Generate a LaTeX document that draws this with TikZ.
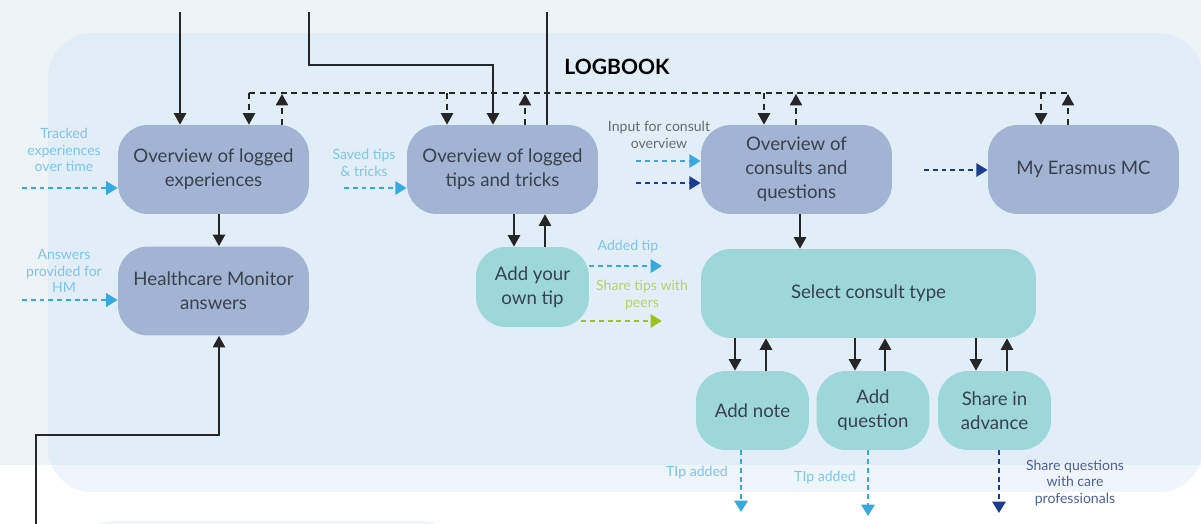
\documentclass[tikz,border=0pt]{standalone}
\usepackage{fontspec}
\setmainfont{Lato}
\usetikzlibrary{arrows.meta}

\definecolor{pagebg}{HTML}{EEF3F8}
\definecolor{panelbg}{HTML}{E2EEF7}
\definecolor{panellow}{HTML}{EEF6FC}
\definecolor{boxblue}{HTML}{A1B4D4}
\definecolor{boxteal}{HTML}{9DD7D9}
\definecolor{boxtext}{HTML}{3A414C}
\definecolor{flowline}{HTML}{262626}
\definecolor{linkblue}{HTML}{36A9E1}
\definecolor{linkdark}{HTML}{1B3C8C}
\definecolor{linkgreen}{HTML}{9BC31B}
\definecolor{lblblue}{HTML}{7FC5EA}
\definecolor{lblgreen}{HTML}{B3D46A}
\definecolor{lbldark}{HTML}{4D5FA0}
\definecolor{lblgray}{HTML}{666B73}

\begin{document}
\begin{tikzpicture}[
x=0.02cm, y=-0.02cm,
box/.style={rounded corners=17pt, minimum width=3.82cm, minimum height=1.78cm, align=center, text=boxtext, font=\fontsize{10.6}{13.6}\selectfont, inner sep=2pt},
bluebox/.style={box, fill=boxblue},
tealbox/.style={box, fill=boxteal, minimum width=2.26cm, minimum height=1.6cm},
flow/.style={draw=flowline, line width=0.8pt, -{Triangle[length=6.5pt,width=7pt]}},
bus/.style={draw=flowline, line width=0.8pt, dash pattern=on 3.4pt off 2.6pt},
feed/.style={line width=1.5pt, dash pattern=on 2.8pt off 2.2pt, -{Triangle[length=6.5pt,width=7.5pt]}},
note/.style={font=\fontsize{8}{9.6}\selectfont, align=center, inner sep=0pt},
]
\useasboundingbox (0,0) rectangle (1201,524);
% backgrounds
\fill[pagebg] (0,0) rectangle (1201,465);
\begin{scope}
\clip[rounded corners=0.9cm] (48,33) rectangle (1203,492);
\fill[panelbg] (48,33) rectangle (1203,492);
\fill[panellow] (48,465) rectangle (1203,492);
\end{scope}
\fill[panellow, rounded corners=0.9cm] (70,521) rectangle (466,600);
\node[font=\bfseries\fontsize{12}{14}\selectfont] (title) at (617,67) {LOGBOOK};

% boxes
\node[bluebox] (exp) at (213.5,169.5) {Overview of logged\\experiences};
\node[bluebox] (hm) at (213.5,291) {Healthcare Monitor\\answers};
\node[bluebox] (tips) at (502.5,169.5) {Overview of logged\\tips and tricks};
\node[tealbox] (owntip) at (532.5,287) {Add your\\own tip};
\node[bluebox] (consults) at (796.5,169.5) {Overview of\\consults and\\questions};
\node[bluebox] (erasmus) at (1083.5,169.5) {My Erasmus MC};
\node[tealbox, minimum width=6.7cm, minimum height=1.78cm] (select) at (868.5,293.5) {Select consult type};
\node[tealbox, minimum height=1.58cm] (note) at (752.5,410.5) {Add note};
\node[tealbox, minimum height=1.58cm] (question) at (873,410.5) {Add\\question};
\node[tealbox, minimum height=1.58cm] (share) at (994.5,410.5) {Share in\\advance};

% lines coming in from above
\coordinate (t1) at (180,12);
\coordinate (t2) at (309,12);
\coordinate (k2) at (493,65);
\coordinate (t3) at (547,12);
\draw[flow] (t1) -- (t1 |- exp.north);
\draw[flow] (t2) |- (k2) -- (k2 |- tips.north);
\draw[draw=flowline, line width=0.8pt] (t3) -- (t3 |- tips.north);

% line coming in from below
\coordinate (b0) at (36,524);
\coordinate (k4) at (219,435);
\draw[flow] (b0) |- (k4) -- (k4 |- hm.south);

% shared dashed bus
\coordinate (busL) at (249,93);
\coordinate (busR) at (1068,93);
\draw[bus] (busL) -- (busR);
\foreach \b/\d/\u in {exp/249/282, tips/447/525, consults/764/796, erasmus/1041/1068} {
  \coordinate (d\b) at (\d,93);
  \coordinate (u\b) at (\u,94);
  \draw[bus, -{Triangle[length=6.5pt,width=7pt]}] (d\b) -- (d\b |- \b.north);
  \draw[bus, -{Triangle[length=6.5pt,width=7pt]}] (u\b |- \b.north) -- (u\b);
}

% solid links between boxes
\draw[flow] ([xshift=0.11cm]exp.south) -- ([xshift=0.11cm]hm.north);
\draw[flow] ([xshift=0.23cm]tips.south) -- ([xshift=0.23cm]tips.south |- owntip.north);
\draw[flow] ([xshift=0.85cm]tips.south |- owntip.north) -- ([xshift=0.85cm]tips.south);
\draw[flow] ([xshift=0.07cm]consults.south) -- ([xshift=0.07cm]consults.south |- select.north);
\foreach \n/\a/\c in {note/-0.35cm/0.27cm, question/-0.36cm/0.24cm, share/-0.37cm/0.25cm} {
  \draw[flow] ([xshift=\a]\n.north |- select.south) -- ([xshift=\a]\n.north);
  \draw[flow] ([xshift=\c]\n.north) -- ([xshift=\c]\n.north |- select.south);
}

% incoming data
\coordinate (f1) at (22,188);
\coordinate (f2) at (22,300);
\coordinate (f3) at (344,188);
\coordinate (f4) at (636,161);
\coordinate (f5) at (636,183);
\coordinate (f6) at (924,170);
\draw[feed, linkblue] (f1) -- (f1 -| exp.west);
\draw[feed, linkblue] (f2) -- (f2 -| hm.west);
\draw[feed, linkblue] (f3) -- (f3 -| tips.west);
\draw[feed, linkblue] (f4) -- (f4 -| consults.west);
\draw[feed, linkdark] (f5) -- (f5 -| consults.west);
\draw[feed, linkdark] (f6) -- (f6 -| erasmus.west);
\node[note, text=lblblue] (l1) at (64,150) {Tracked\\experiences\\over time};
\node[note, text=lblblue] (l2) at (64,271) {Answers\\provided for\\HM};
\node[note, text=lblblue] (l3) at (364,163) {Saved tips\\\& tricks};
\node[note, text=lblgray] (l4) at (659,135) {Input for consult\\overview};

% outgoing data
\coordinate (o1) at (662,266);
\coordinate (o2) at (662,321);
\coordinate (o3) at (741,512);
\coordinate (o4) at (868,516);
\coordinate (o5) at (999,513);
\draw[feed, linkblue] (o1 -| owntip.east) -- (o1);
\draw[feed, linkgreen] ([xshift=-0.16cm]o2 -| owntip.east) -- (o2);
\draw[feed, linkblue] (o3 |- note.south) -- (o3);
\draw[feed, linkblue] (o4 |- question.south) -- (o4);
\draw[feed, linkdark] (o5 |- share.south) -- (o5);
\node[note, text=lblblue] (l5) at (628,247) {Added tip};
\node[note, text=lblgreen] (l6) at (642,295) {Share tips with\\peers};
\node[note, text=lblblue] (l7) at (697,473) {TIp added};
\node[note, text=lblblue] (l8) at (825,478) {TIp added};
\node[note, text=lbldark] (l9) at (1075,483) {Share questions\\with care\\professionals};
\end{tikzpicture}
\end{document}
